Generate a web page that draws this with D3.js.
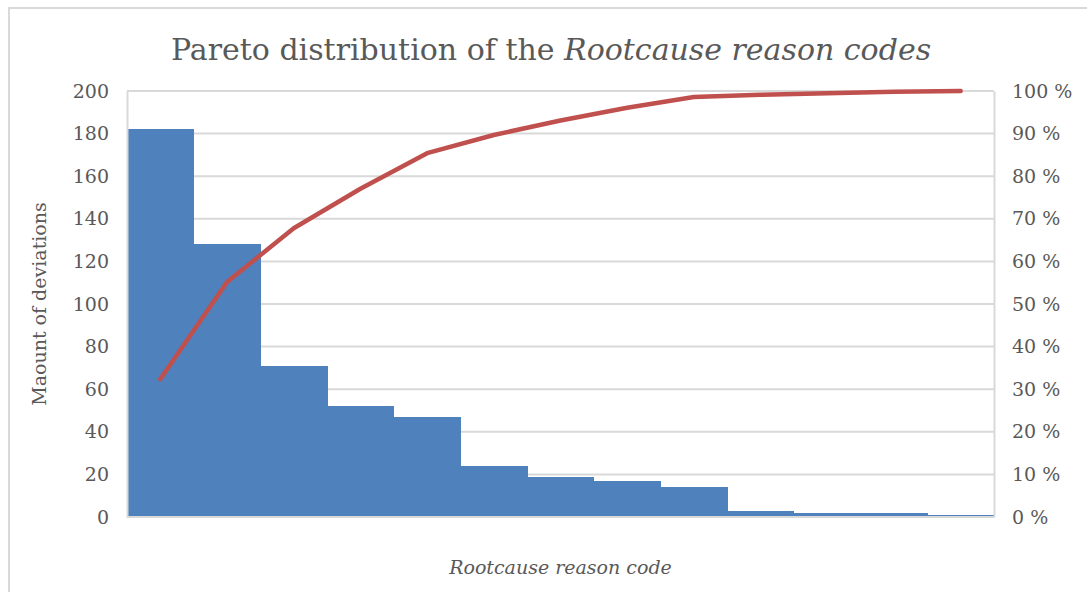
<!DOCTYPE html>
<html>
<head>
<meta charset="utf-8">
<script src="https://cdn.jsdelivr.net/npm/d3@7"></script>
<style>
  html, body { margin: 0; padding: 0; background: #fff; }
  svg { display: block; }
  text { font-family: "DejaVu Serif", "Liberation Serif", serif; fill: #595959; }
</style>
</head>
<body>
<svg id="chart" width="1087" height="592"></svg>
<script>
// Root cause reason codes, sorted by number of deviations
const codes = ["C1", "C2", "C3", "C4", "C5", "C6", "C7", "C8", "C9", "C10", "C11", "C12", "C13"];
const deviations = [182, 128, 71, 52, 47, 24, 19, 17, 14, 3, 2, 2, 1];
const countTicks = [0, 20, 40, 60, 80, 100, 120, 140, 160, 180, 200];
const percentTicks = [0, 0.1, 0.2, 0.3, 0.4, 0.5, 0.6, 0.7, 0.8, 0.9, 1.0];

const total = d3.sum(deviations);
const cumulative = d3.cumsum(deviations).map(v => v / total);

const W = 1087, H = 592;
const margin = { left: 127, right: 93, top: 91, bottom: 75 };
const svg = d3.select("#chart");

// outer chart frame
svg.append("rect")
  .attr("x", 9).attr("y", 8)
  .attr("width", W + 10).attr("height", H + 10)
  .attr("fill", "none").attr("stroke", "#d9d9d9").attr("stroke-width", 2);

const x = d3.scaleBand().domain(codes)
  .range([margin.left, W - margin.right]).padding(0);
const y = d3.scaleLinear().domain([0, 200]).range([H - margin.bottom, margin.top]);
const yPct = d3.scaleLinear().domain([0, 1]).range([H - margin.bottom, margin.top]);

// horizontal gridlines
svg.append("g").selectAll("line").data(countTicks).join("line")
  .attr("x1", margin.left).attr("x2", W - margin.right)
  .attr("y1", d => y(d)).attr("y2", d => y(d))
  .attr("stroke", "#d9d9d9").attr("stroke-width", 2);

// bars (touching, no gap between categories)
svg.append("g").attr("shape-rendering", "crispEdges")
  .selectAll("rect").data(deviations).join("rect")
  .attr("x", (d, i) => x(codes[i]))
  .attr("width", x.bandwidth() + 0.5)
  .attr("y", d => y(d))
  .attr("height", d => y(0) - y(d))
  .attr("fill", "#4f81bd");

// left and right axes
const leftAxis = d3.axisLeft(y).tickValues(countTicks).tickSize(0).tickPadding(18);
const gl = svg.append("g").attr("transform", `translate(${margin.left},0)`).call(leftAxis);
gl.select(".domain").attr("stroke", "#d9d9d9").attr("stroke-width", 2);
gl.selectAll("text").style("font-size", "19px").attr("fill", "#595959");

const rightAxis = d3.axisRight(yPct).tickValues(percentTicks).tickSize(0).tickPadding(18)
  .tickFormat(d => Math.round(d * 100) + " %");
const gr = svg.append("g").attr("transform", `translate(${W - margin.right},0)`).call(rightAxis);
gr.select(".domain").attr("stroke", "#d9d9d9").attr("stroke-width", 2);
gr.selectAll("text").style("font-size", "19px").attr("fill", "#595959");

// bottom axis line
svg.append("line")
  .attr("x1", margin.left).attr("x2", W - margin.right)
  .attr("y1", y(0)).attr("y2", y(0))
  .attr("stroke", "#d9d9d9").attr("stroke-width", 2);

// cumulative percentage line
const line = d3.line()
  .x((d, i) => x(codes[i]) + x.bandwidth() / 2)
  .y(d => yPct(d));
svg.append("path").datum(cumulative)
  .attr("d", line)
  .attr("fill", "none").attr("stroke", "#c0504d")
  .attr("stroke-width", 4.5).attr("stroke-linecap", "round").attr("stroke-linejoin", "round");

// title
const title = svg.append("text")
  .attr("x", 551).attr("y", 60)
  .attr("text-anchor", "middle")
  .style("font-size", "30px");
title.append("tspan").text("Pareto distribution of the ");
title.append("tspan").style("font-style", "italic").text("Rootcause reason codes");

// axis titles
svg.append("text")
  .attr("transform", `translate(46,${(y(0) + y(200)) / 2}) rotate(-90)`)
  .attr("text-anchor", "middle")
  .style("font-size", "19px")
  .text("Maount of deviations");

svg.append("text")
  .attr("x", (margin.left + W - margin.right) / 2).attr("y", 574)
  .attr("text-anchor", "middle")
  .style("font-size", "19px").style("font-style", "italic")
  .text("Rootcause reason code");
</script>
</body>
</html>
